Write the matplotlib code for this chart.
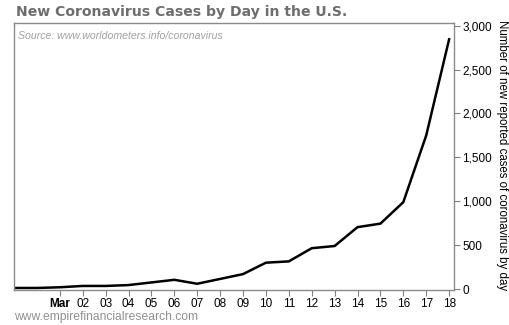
import numpy as np
import matplotlib.pyplot as plt

# day index 0 = Mar 01; Feb 28 and Feb 29 come before it
days = ['Feb 28', 'Feb 29', 'Mar', '02', '03', '04', '05', '06', '07', '08', '09',
        '10', '11', '12', '13', '14', '15', '16', '17', '18']
new_cases = [12, 12, 20, 35, 35, 45, 75, 105, 60, 115, 170,
             300, 315, 465, 490, 705, 745, 990, 1750, 2845]
y_ticks = [0, 500, 1000, 1500, 2000, 2500, 3000]

plt.rcParams['font.family'] = ['Liberation Sans', 'DejaVu Sans']

fig = plt.figure(figsize=(5.1, 3.25), dpi=100)
ax = fig.add_axes([0.0275, 0.108, 0.863, 0.821])

x = np.arange(len(days)) - 2
ax.plot(x, new_cases, color='black', lw=1.8, solid_joinstyle='miter')

ax.set_xlim(-2, 17.22)
ax.set_ylim(-10, 3030)

# x ticks: every day from Mar 1 on
ax.set_xticks(x[2:])
ax.set_xticklabels(days[2:], fontsize=8.5)
ax.get_xticklabels()[0].set_fontweight('bold')

ax.yaxis.tick_right()
ax.set_yticks(y_ticks)
ax.set_yticklabels([f'{v:,}' for v in y_ticks], fontsize=8.5)
ax.yaxis.set_label_position('right')
ax.set_ylabel('Number of new reported cases of coronavirus by day',
              rotation=-90, fontsize=8.3, va='center', ha='center')
ax.yaxis.set_label_coords(1.109, 0.505)

ax.tick_params(axis='both', colors='#808080', labelcolor='black',
               length=4, width=0.8, pad=2)
for s in ax.spines.values():
    s.set_color('#8a8a8a')
    s.set_linewidth(1.0)

ax.text(0.009, 0.972, 'Source: www.worldometers.info/coronavirus',
        transform=ax.transAxes, ha='left', va='top', fontsize=7.6,
        style='italic', color='#a0a0a0')

fig.text(0.031, 0.952, 'New Coronavirus Cases by Day in the U.S.',
         fontsize=10.1, fontweight='bold', color='#6e6e6e',
         family='DejaVu Sans', ha='left', va='baseline')
fig.text(0.027, 0.014, 'www.empirefinancialresearch.com',
         fontsize=8.7, color='#909090', ha='left', va='baseline')

fig.savefig('out.png', dpi=100)
